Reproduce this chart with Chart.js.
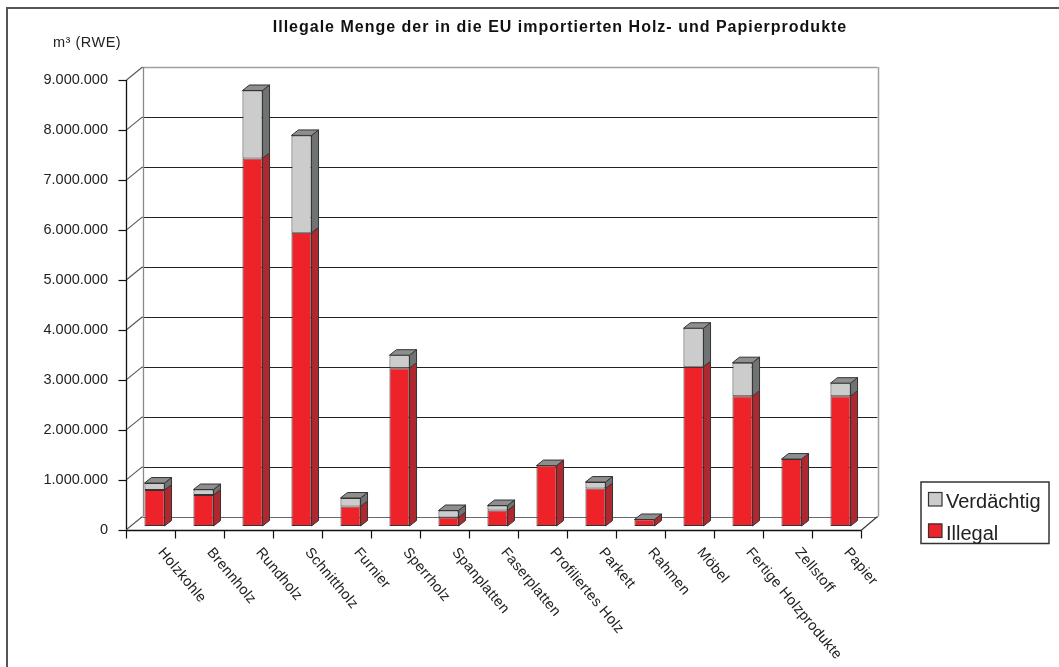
<!DOCTYPE html>
<html lang="de">
<head>
<meta charset="utf-8">
<title>Illegale Menge der in die EU importierten Holz- und Papierprodukte</title>
<script src="https://cdn.jsdelivr.net/npm/chart.js@4.4.1/dist/chart.umd.min.js"></script>
<style>
  html, body { margin: 0; padding: 0; background: #ffffff; }
  #wrap { position: relative; width: 1059px; height: 667px; overflow: hidden; }
</style>
</head>
<body>
<div id="wrap"><canvas id="chart"></canvas></div>
<script>
// Produktgruppen und Mengen in m³ (RWE)
const categories = [
  'Holzkohle', 'Brennholz', 'Rundholz', 'Schnittholz', 'Furnier', 'Sperrholz',
  'Spanplatten', 'Faserplatten', 'Profiliertes Holz', 'Parkett', 'Rahmen',
  'Möbel', 'Fertige Holzprodukte', 'Zellstoff', 'Papier'
];
const illegal = [
  720000, 620000, 7360000, 5870000, 390000, 3160000,
  170000, 310000, 1210000, 750000, 130000,
  3190000, 2600000, 1340000, 2600000
];
const suspicious = [
  140000, 110000, 1360000, 1950000, 170000, 260000,
  140000, 100000, 0, 130000, 0,
  770000, 670000, 0, 260000
];
const yTickValues = [0, 1000000, 2000000, 3000000, 4000000, 5000000, 6000000, 7000000, 8000000, 9000000];

const titleText = 'Illegale Menge der in die EU importierten Holz- und Papierprodukte';
const unitText = 'm³ (RWE)';

const FONT = '"Liberation Sans", Arial, Helvetica, sans-serif';
const RED = '#ee2229', RED_SIDE = '#b0282f';
const GREY = '#cccccc', GREY_SIDE = '#6f7373', TOP = '#8e8e8e';
const EDGE = '#333333';

// depth offsets relative to the plane the bars stand in
const FRONT = { x: -4, y: 3.5 };
const BACK = { x: 12.5, y: -9.5 };
const BAR_DEPTH = { x: 7, y: -5.5 };
const LABEL_ANGLE = 50 * Math.PI / 180;

const fmt = v => String(v).replace(/\B(?=(\d{3})+(?!\d))/g, '.');

function line(ctx, x1, y1, x2, y2, color, w) {
  ctx.beginPath();
  ctx.moveTo(x1, y1);
  ctx.lineTo(x2, y2);
  ctx.strokeStyle = color;
  ctx.lineWidth = w || 1;
  ctx.stroke();
}

// walls, floor, gridlines and the front axis
const wallPlugin = {
  id: 'wall',
  beforeDatasetsDraw(chart) {
    const { ctx, chartArea: ca, scales: { y: ys } } = chart;
    ctx.save();
    const bl = ca.left + BACK.x, br = ca.right + BACK.x;
    const fl = ca.left + FRONT.x, fr = ca.right + FRONT.x;
    const yMax = yTickValues[yTickValues.length - 1];
    const yTopB = ys.getPixelForValue(yMax) + BACK.y;
    const yZeroB = ys.getPixelForValue(0) + BACK.y;
    const yTopF = ys.getPixelForValue(yMax) + FRONT.y;
    const yZeroF = ys.getPixelForValue(0) + FRONT.y;

    // back wall gridlines
    yTickValues.forEach((v, i) => {
      const y = Math.round(ys.getPixelForValue(v) + BACK.y) + 0.5;
      let c = '#222222';
      if (i === yTickValues.length - 1) c = '#a0a0a0';
      if (i === 0) c = '#6a6a6a';
      line(ctx, bl, y, br, y, c, i === yTickValues.length - 1 ? 1.5 : 1.2);
    });
    // wall edges
    line(ctx, Math.round(bl) + 0.5, yTopB, Math.round(bl) + 0.5, yZeroB, '#8a8a8a', 1.3);
    line(ctx, Math.round(br) + 0.5, yTopB, Math.round(br) + 0.5, yZeroB, '#a0a0a0', 1.5);

    // side wall diagonals and front ticks
    const fx = Math.round(fl) + 0.5;
    yTickValues.forEach(v => {
      const yf = ys.getPixelForValue(v) + FRONT.y;
      const yb = ys.getPixelForValue(v) + BACK.y;
      line(ctx, fx, yf, bl, yb, '#555555', 1.1);
      line(ctx, fx - 8, Math.round(yf) + 0.5, fx, Math.round(yf) + 0.5, '#111111', 1.2);
    });
    line(ctx, fx, yTopF, fx, yZeroF, '#111111', 1.3);

    // floor front edge and category ticks
    const yf0 = Math.round(yZeroF) + 0.5;
    line(ctx, fl, yf0, fr, yf0, '#111111', 1.3);
    line(ctx, fr, yf0, br, yZeroB, '#333333', 1.1);
    const n = categories.length;
    const cw = (ca.right - ca.left) / n;
    for (let k = 0; k <= n; k++) {
      const x = Math.round(fl + k * cw) + 0.5;
      line(ctx, x, yf0, x, yf0 + 8, '#111111', 1.2);
    }
    ctx.restore();
  }
};

// side and top faces of the bars
const depthPlugin = {
  id: 'depth',
  afterDatasetsDraw(chart) {
    const { ctx } = chart;
    const red = chart.getDatasetMeta(0).data;
    const grey = chart.getDatasetMeta(1).data;
    const dx = BAR_DEPTH.x, dy = BAR_DEPTH.y;
    ctx.save();
    ctx.lineJoin = 'round';
    const poly = (pts, fill) => {
      ctx.beginPath();
      ctx.moveTo(pts[0][0], pts[0][1]);
      for (let i = 1; i < pts.length; i++) ctx.lineTo(pts[i][0], pts[i][1]);
      ctx.closePath();
      ctx.fillStyle = fill;
      ctx.fill();
      ctx.strokeStyle = EDGE;
      ctx.lineWidth = 1;
      ctx.stroke();
    };
    categories.forEach((c, i) => {
      const segs = [[red[i], RED_SIDE, illegal[i]], [grey[i], GREY_SIDE, suspicious[i]]];
      let topEl = null;
      segs.forEach(([el, col, val]) => {
        if (!el || !val) return;
        const p = el.getProps(['x', 'y', 'base', 'width'], true);
        const xr = p.x + p.width / 2;
        poly([[xr, p.y], [xr + dx, p.y + dy], [xr + dx, p.base + dy], [xr, p.base]], col);
        topEl = p;
      });
      if (topEl) {
        const xl = topEl.x - topEl.width / 2, xr = topEl.x + topEl.width / 2;
        poly([[xl, topEl.y], [xl + dx, topEl.y + dy], [xr + dx, topEl.y + dy], [xr, topEl.y]], TOP);
      }
    });
    ctx.restore();
  }
};

// title, unit, slanted category labels, legend and frame
const textPlugin = {
  id: 'texts',
  afterDraw(chart) {
    const { ctx, scales: { x: xs } } = chart;
    ctx.save();
    // frame
    ctx.strokeStyle = '#555555';
    ctx.lineWidth = 2;
    ctx.strokeRect(7, 8, 1100, 700);

    ctx.fillStyle = '#111111';
    ctx.font = 'bold 16px ' + FONT;
    ctx.letterSpacing = '1px';
    ctx.textAlign = 'center';
    ctx.textBaseline = 'alphabetic';
    ctx.fillText(titleText, 560, 32);

    ctx.fillStyle = '#222222';
    ctx.font = '14.5px ' + FONT;
    ctx.letterSpacing = '0.5px';
    ctx.textAlign = 'left';
    ctx.fillText(unitText, 53, 47);

    // category labels, slanted down to the right
    ctx.font = '14.5px ' + FONT;
    ctx.letterSpacing = '0.3px';
    ctx.textBaseline = 'middle';
    categories.forEach((label, i) => {
      const px = xs.getPixelForValue(i) + 6;
      ctx.save();
      ctx.translate(px, 550);
      ctx.rotate(LABEL_ANGLE);
      ctx.fillText(label, 0, 0);
      ctx.restore();
    });

    // legend
    ctx.letterSpacing = '0px';
    const ds = chart.data.datasets;
    const items = [ds[1], ds[0]];
    ctx.strokeStyle = '#333333';
    ctx.lineWidth = 1.5;
    ctx.fillStyle = '#ffffff';
    ctx.fillRect(921, 482, 128, 61.5);
    ctx.strokeRect(921, 482, 128, 61.5);
    ctx.font = '20px ' + FONT;
    ctx.textBaseline = 'alphabetic';
    items.forEach((d, k) => {
      const y = k === 0 ? 492 : 523.5;
      ctx.fillStyle = d.backgroundColor;
      ctx.fillRect(928, y, 14, 14);
      ctx.lineWidth = 1.2;
      ctx.strokeStyle = '#333333';
      ctx.strokeRect(928.5, y + 0.5, 13.5, 13.5);
      ctx.fillStyle = '#222222';
      ctx.fillText(d.label, 946, y + 16);
    });
    ctx.restore();
  }
};

new Chart(document.getElementById('chart'), {
  type: 'bar',
  data: {
    labels: categories,
    datasets: [
      { label: 'Illegal', data: illegal, backgroundColor: RED, borderColor: EDGE,
        borderWidth: 1, borderSkipped: false },
      { label: 'Verdächtig', data: suspicious, backgroundColor: GREY, borderColor: EDGE,
        borderWidth: 1, borderSkipped: false }
    ]
  },
  options: {
    responsive: true,
    maintainAspectRatio: false,
    animation: false,
    devicePixelRatio: 1,
    layout: { padding: { left: 0, top: 76.5, right: 194, bottom: 0 } },
    categoryPercentage: 1,
    barPercentage: 0.41,
    plugins: {
      legend: { display: false },
      title: { display: false },
      tooltip: { enabled: false }
    },
    scales: {
      x: {
        stacked: true,
        grid: { display: false, drawTicks: false },
        border: { display: false },
        ticks: { display: false },
        afterFit(scale) { scale.height = 141; }
      },
      y: {
        stacked: true,
        min: 0,
        max: 9000000,
        grid: { display: false, drawTicks: false },
        border: { display: false },
        afterBuildTicks(scale) { scale.ticks = yTickValues.map(v => ({ value: v })); },
        ticks: {
          padding: 22,
          labelOffset: 3.5,
          color: '#222222',
          font: { family: FONT, size: 14.5 },
          callback: v => fmt(v)
        },
        afterFit(scale) { scale.width = 130; }
      }
    }
  },
  plugins: [wallPlugin, depthPlugin, textPlugin]
});
</script>
</body>
</html>
